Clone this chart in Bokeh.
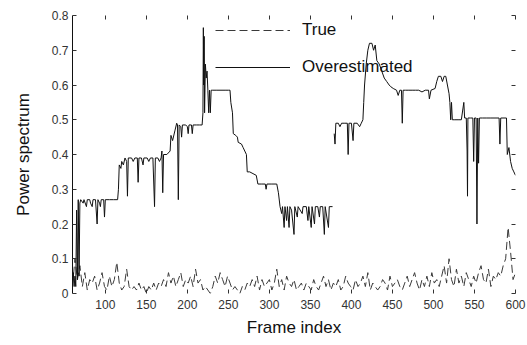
import numpy as np
from bokeh.plotting import figure
from bokeh.models import Legend, LegendItem, LinearAxis, FixedTicker
from bokeh.embed import file_html
from bokeh.resources import INLINE

# Axis ticks
x_ticks = [100, 150, 200, 250, 300, 350, 400, 450, 500, 550, 600]
y_ticks = [0, 0.1, 0.2, 0.3, 0.4, 0.5, 0.6, 0.7, 0.8]
y_tick_labels = ["0", "0.1", "0.2", "0.3", "0.4", "0.5", "0.6", "0.7", "0.8"]

# True power spectrum, sampled every 3 frames from 60 to 600
true_frames = list(range(60, 601, 3))
true_power = [
    0.02, 0.10, 0.04, 0.08,
    0.02, 0.06, 0.01, 0.04, 0.03, 0.05, 0.01, 0.03, 0.06, 0.02,
    0.01, 0.05, 0.02, 0.04, 0.09, 0.03, 0.01, 0.02, 0.07, 0.02,
    0.01, 0.02, 0.01, 0.03, 0.01, 0.02, 0.00, 0.02, 0.01, 0.03,
    0.01, 0.03, 0.02, 0.04, 0.02, 0.06, 0.03, 0.05, 0.02, 0.04,
    0.06, 0.02, 0.04, 0.03, 0.05, 0.02, 0.07, 0.03, 0.04, 0.01,
    0.02, 0.01, 0.00, 0.02, 0.05, 0.03, 0.06, 0.04, 0.02, 0.05,
    0.03, 0.01, 0.02, 0.01, 0.00, 0.02, 0.01, 0.03, 0.02, 0.04,
    0.02, 0.05, 0.01, 0.04, 0.02, 0.03, 0.04, 0.01, 0.03, 0.07,
    0.02, 0.04, 0.01, 0.05, 0.03, 0.02, 0.04, 0.01, 0.02, 0.03,
    0.01, 0.03, 0.02, 0.01, 0.04, 0.02, 0.01, 0.03, 0.05, 0.02,
    0.04, 0.01, 0.03, 0.02, 0.04, 0.01, 0.02, 0.05, 0.03, 0.02,
    0.01, 0.04, 0.02, 0.03, 0.05, 0.02, 0.06, 0.01, 0.03, 0.02,
    0.01, 0.02, 0.04, 0.03, 0.01, 0.05, 0.02, 0.03, 0.04, 0.02,
    0.01, 0.03, 0.05, 0.02, 0.04, 0.06, 0.03, 0.01, 0.04, 0.02,
    0.05, 0.02, 0.06, 0.03, 0.04, 0.02, 0.05, 0.08, 0.03, 0.10,
    0.04, 0.02, 0.07, 0.03, 0.05, 0.02, 0.06, 0.04, 0.02, 0.05,
    0.03, 0.06, 0.08, 0.04, 0.03, 0.07, 0.02, 0.05, 0.04, 0.06,
    0.05, 0.08, 0.10, 0.19, 0.12, 0.04, 0.06,
]

# Overestimated power spectrum (frame, value); NaN marks a break in the trace
over_frames = [
    60, 61, 62, 63, 64, 65, 66, 67, 68, 69, 70,
    73, 74, 77, 78, 81, 82, 84, 85, 88, 90, 91, 93, 94, 95, 98, 99, 100, 105, 110, 115,
    116, 117, 119, 120, 122, 124, 126, 127, 128, 132, 134, 136, 139, 140, 141, 144,
    146, 147, 151, 153, 155, 158, 160, 161, 164, 166, 168, 169, 170, 171, 175, 179,
    180, 182, 185, 187,
    188, 189, 190, 192, 193, 194, 198, 200, 201, 202, 205, 206, 207, 211, 215, 218,
    219, 219.5, 220, 220.5, 221, 222, 223, 224, 225, 226, 227, 228, 229, 231, 236,
    241, 246, 250, 252, 253, 255,
    256, 259, 261, 262, 266, 268, 270, 272, 273, 276, 280, 284, 286, 290, 295, 296,
    297, 303, 309, 311,
    313, 315, 316, 318, 319, 321, 322, 324, 325, 327, 330, 331, 334, 335, 340, 341,
    345, 347, 348, 351, 352, 355, 356, 359, 361, 362, 365, 367, 368, 372, 373, 377,
    378,
    379, 380, 381, 384, 386, 388, 392, 395, 396, 397, 400, 402, 403, 407, 410, 412,
    414, 415, 416,
    418, 420, 422, 425, 427, 429, 431, 434, 437, 440, 443, 446, 448,
    451, 455, 457, 459, 461, 462, 463, 466, 470, 474, 478, 482, 486, 490, 494, 495,
    497, 502, 504, 506, 509, 511, 513, 515, 517, 519, 520, 521, 522, 523, 526, 530,
    534, 537, 538, 540, 541, 541.5, 542, 545, 548, 549, 550, 552, 553, 554, 555, 556,
    560, 565, 570, 575, 580, 581, 582, 586, 589, 590, 592, 594, 596, 598, 600,
]
over_power = [
    0.03, 0.06, 0.02, 0.05, 0.02, 0.24, 0.04, 0.27, 0.05, 0.26, 0.27,
    0.26, 0.27, 0.25, 0.27, 0.27, 0.26, 0.25, 0.27, 0.27, 0.20, 0.27, 0.26, 0.25, 0.27, 0.27, 0.22, 0.27, 0.27, 0.27, 0.27,
    0.30, 0.37, 0.36, 0.38, 0.37, 0.39, 0.38, 0.28, 0.39, 0.39, 0.38, 0.39, 0.39, 0.32, 0.39, 0.39,
    0.37, 0.39, 0.39, 0.38, 0.39, 0.39, 0.25, 0.39, 0.39, 0.38, 0.39, 0.41, 0.29, 0.40, 0.40, 0.41,
    0.455, 0.44, 0.47, 0.49,
    0.485, 0.27, 0.485, 0.48, 0.45, 0.485, 0.485, 0.48, 0.46, 0.485, 0.485, 0.46, 0.485, 0.485, 0.485, 0.485,
    0.52, 0.765, 0.60, 0.74, 0.52, 0.66, 0.62, 0.64, 0.585, 0.52, 0.585, 0.52, 0.585, 0.585, 0.585,
    0.585, 0.585, 0.585, 0.585, 0.55, 0.52,
    0.46, 0.455, 0.45, 0.435, 0.43, 0.42, 0.41, 0.40, 0.35, 0.35, 0.345, 0.34, 0.315, 0.315, 0.315, 0.30,
    0.315, 0.315, 0.315, 0.29,
    0.25, 0.23, 0.25, 0.19, 0.25, 0.21, 0.25, 0.19, 0.25, 0.24, 0.17, 0.25, 0.22, 0.25, 0.23, 0.25,
    0.25, 0.21, 0.25, 0.19, 0.25, 0.20, 0.25, 0.25, 0.22, 0.25, 0.25, 0.17, 0.25, 0.19, 0.25, 0.25,
    float("nan"),
    0.46, 0.43, 0.49, 0.49, 0.48, 0.49, 0.49, 0.49, 0.40, 0.49, 0.49, 0.44, 0.49, 0.49, 0.48, 0.49,
    0.50, 0.55, 0.60,
    0.66, 0.70, 0.72, 0.72, 0.70, 0.715, 0.67, 0.66, 0.64, 0.62, 0.61, 0.60, 0.595,
    0.59, 0.585, 0.57, 0.585, 0.585, 0.49, 0.585, 0.585, 0.585, 0.585, 0.585, 0.585, 0.58, 0.585, 0.585, 0.56,
    0.585, 0.59, 0.61, 0.625, 0.625, 0.61, 0.625, 0.625, 0.60, 0.575, 0.55, 0.50, 0.55, 0.50, 0.50, 0.50,
    0.50, 0.55, 0.505, 0.505, 0.41, 0.28, 0.505, 0.505, 0.505, 0.38, 0.505, 0.505, 0.20, 0.505, 0.375, 0.505,
    0.505, 0.505, 0.505, 0.505, 0.505, 0.43, 0.505, 0.505, 0.505, 0.40, 0.42, 0.38, 0.36, 0.35, 0.34,
]

FONT = "Liberation Sans"

p = figure(
    width=527, height=345,
    x_range=(60, 600), y_range=(0, 0.8),
    output_backend="svg", toolbar_location=None,
    min_border_left=72, min_border_right=12,
    min_border_top=15, min_border_bottom=52,
    background_fill_color="white", border_fill_color="white",
    outline_line_color=None,
)
p.grid.visible = False

true_r = p.line(np.array(true_frames, dtype=float), np.array(true_power),
                line_color="#3a3a3a", line_width=1, line_dash="8 4")
over_r = p.line(np.array(over_frames, dtype=float), np.array(over_power),
                line_color="#111111", line_width=1)

# Bottom and left axes
xa = p.xaxis[0]
xa.ticker = FixedTicker(ticks=x_ticks)
xa.axis_line_color = None
xa.major_tick_in = 4
xa.major_tick_out = 0
xa.minor_tick_line_color = None
xa.major_label_standoff = 6
xa.axis_label = "Frame index"
xa.axis_label_standoff = 6

ya = p.yaxis[0]
ya.ticker = FixedTicker(ticks=y_ticks)
ya.major_label_overrides = {t: s for t, s in zip(y_ticks, y_tick_labels)}
ya.axis_line_color = "#111111"
ya.major_tick_in = 4
ya.major_tick_out = 0
ya.minor_tick_line_color = None
ya.major_label_standoff = 4
ya.axis_label = "Power spectrum"
ya.axis_label_standoff = 16

for ax in (xa, ya):
    ax.major_label_text_font = FONT
    ax.major_label_text_font_size = "12px"
    ax.major_label_text_color = "#333333"
    ax.axis_label_text_font = FONT
    ax.axis_label_text_font_size = "17px"
    ax.axis_label_text_font_style = "normal"
    ax.axis_label_text_color = "#111111"
    ax.major_tick_line_color = "#333333"

# Mirrored tick marks (no labels) on the top and right edges
top = LinearAxis(ticker=FixedTicker(ticks=x_ticks), axis_line_color=None,
                 major_tick_in=4, major_tick_out=0, minor_tick_line_color=None,
                 major_label_text_color=None, major_label_text_font_size="8px",
                 major_label_standoff=0, major_tick_line_color="#333333")
right = LinearAxis(ticker=FixedTicker(ticks=y_ticks), axis_line_color=None,
                   major_tick_in=4, major_tick_out=0, minor_tick_line_color=None,
                   major_label_text_color=None, major_label_text_font_size="8px",
                   major_label_standoff=0, major_tick_line_color="#333333")
p.add_layout(top, "above")
p.add_layout(right, "right")

legend = Legend(
    items=[LegendItem(label="True", renderers=[true_r]),
           LegendItem(label="Overestimated", renderers=[over_r])],
    location=(143, 216),
    padding=0, margin=0, spacing=17,
    glyph_width=75, glyph_height=20, label_height=20,
    label_standoff=12,
    label_text_font=FONT, label_text_font_size="17px", label_text_color="#111111",
    border_line_color=None, background_fill_alpha=0,
)
p.add_layout(legend, "center")

open("out.html", "w").write(file_html(p, INLINE))
